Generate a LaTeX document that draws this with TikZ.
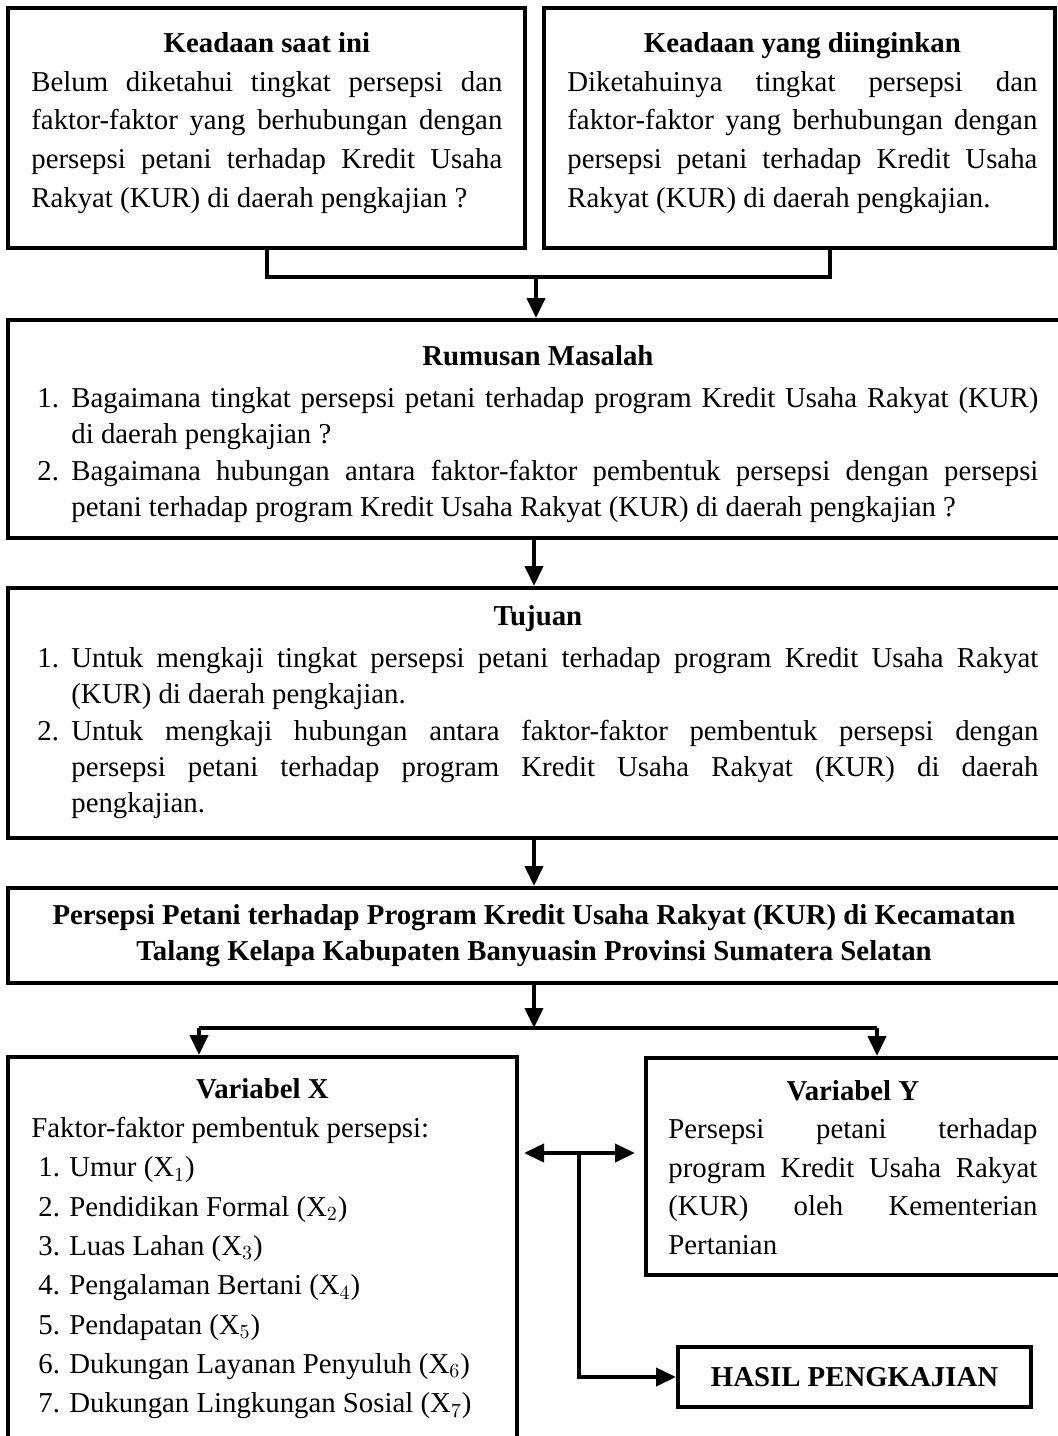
\documentclass[tikz,border=0pt]{standalone}
\usepackage{fontspec}
\setmainfont{Liberation Serif}
\usetikzlibrary{arrows.meta,positioning,calc}
\hyphenpenalty=10000
\exhyphenpenalty=10000
\tolerance=10000
\newcommand{\fA}{\fontsize{14.4}{19.35}\selectfont}
\newcommand{\fC}{\fontsize{14.4}{18.2}\selectfont}
\newcommand{\fX}{\fontsize{14.4}{19.65}\selectfont}
\newcommand{\fY}{\fontsize{14.4}{19.25}\selectfont}
\newcommand{\fE}{\fontsize{14.4}{18}\selectfont\bfseries}
\newcommand{\numitem}[2]{\par\hangindent=17pt\hangafter=1\noindent\makebox[17pt][l]{#1}#2\par}
\newcommand{\xitem}[2]{\par\noindent\hspace*{3.5pt}\makebox[15.5pt][l]{#1}#2\par}
\tikzset{
  frame/.style={draw, line width=2pt, inner sep=0pt},
  txt/.style={inner sep=0pt, anchor=north west, align=justify},
  pre/.style={-{Triangle[length=10pt,width=9pt]}, line width=2pt},
  wire/.style={line width=2pt},
  both/.style={{Triangle[length=10pt,width=9pt]}-{Triangle[length=10pt,width=9pt]}, line width=2pt},
}

\begin{document}
\begin{tikzpicture}[x=0.5pt,y=-0.5pt]
\useasboundingbox (0,0) rectangle (1057,1436);
% boxes
\node[frame, minimum width=258.5pt, minimum height=120pt] (now) at (266.5,128) {};
\node[frame, minimum width=255.5pt, minimum height=120pt] (goal) at (799.5,128) {};
\node[frame, minimum width=526pt, minimum height=109pt] (rumusan) at (534,429) {};
\node[frame, minimum width=526pt, minimum height=125pt] (tujuan) at (534,713) {};
\node[frame, minimum width=526pt, minimum height=47.5pt] (judul) at (534,935.5) {};
\node[frame, minimum width=254.5pt, minimum height=206.5pt] (varx) at (262.5,1263.5) {};
\node[frame, minimum width=207pt, minimum height=108.5pt] (vary) at (853,1166.5) {};
\node[frame, minimum width=176.5pt, minimum height=30pt, font=\fE] (hasil) at (854.5,1377) {HASIL PENGKAJIAN};
% texts
\node[txt, text width=235.5pt, font=\fA] (nowtxt) at (31,32) {{\centering\bfseries Keadaan saat ini\par}
Belum diketahui tingkat persepsi dan\linebreak faktor-faktor yang berhubungan dengan\linebreak persepsi petani terhadap Kredit Usaha\linebreak Rakyat (KUR) di daerah pengkajian ?};
\node[txt, text width=235pt, font=\fA] (goaltxt) at (567,32) {{\centering\bfseries Keadaan yang diinginkan\par}
Diketahuinya tingkat persepsi dan\linebreak faktor-faktor yang berhubungan dengan\linebreak persepsi petani terhadap Kredit Usaha\linebreak Rakyat (KUR) di daerah pengkajian.};
\node[txt, text width=500.5pt, font=\fC] (rumusantxt) at (37,345) {{\centering\bfseries Rumusan Masalah\par}\vspace{2.8pt}
\numitem{1.}{Bagaimana tingkat persepsi petani terhadap program Kredit Usaha Rakyat (KUR)\linebreak di daerah pengkajian ?}
\numitem{2.}{Bagaimana hubungan antara faktor-faktor pembentuk persepsi dengan persepsi\linebreak petani terhadap program Kredit Usaha Rakyat (KUR) di daerah pengkajian ?}};
\node[txt, text width=500.5pt, font=\fC] (tujuantxt) at (37,605) {{\centering\bfseries Tujuan\par}\vspace{2.8pt}
\numitem{1.}{Untuk mengkaji tingkat persepsi petani terhadap program Kredit Usaha Rakyat\linebreak (KUR) di daerah pengkajian.}
\numitem{2.}{Untuk mengkaji hubungan antara faktor-faktor pembentuk persepsi dengan\linebreak persepsi petani terhadap program Kredit Usaha Rakyat (KUR) di daerah\linebreak pengkajian.}};
\node[inner sep=0pt, align=center, font=\fE] (judultxt) at (judul) {Persepsi Petani terhadap Program Kredit Usaha Rakyat (KUR) di Kecamatan\\Talang Kelapa Kabupaten Banyuasin Provinsi Sumatera Selatan};
\node[txt, text width=231pt, align=flush left, font=\fX] (varxtxt) at (31,1078) {{\centering\bfseries Variabel X\par}
Faktor-faktor pembentuk persepsi:
\xitem{1.}{Umur (X$_1$)}
\xitem{2.}{Pendidikan Formal (X$_2$)}
\xitem{3.}{Luas Lahan (X$_3$)}
\xitem{4.}{Pengalaman Bertani (X$_4$)}
\xitem{5.}{Pendapatan (X$_5$)}
\xitem{6.}{Dukungan Layanan Penyuluh (X$_6$)}
\xitem{7.}{Dukungan Lingkungan Sosial (X$_7$)}};
\node[txt, text width=184.5pt, font=\fY] (varytxt) at (668,1080) {{\centering\bfseries Variabel Y\par}
Persepsi petani terhadap\linebreak program Kredit Usaha Rakyat\linebreak (KUR) oleh Kementerian\linebreak Pertanian};
% connectors
\coordinate (join) at (536,277);
\draw[wire] (now.south) |- (join) -| ([xshift=15pt]goal.south);
\draw[pre] (join) -- (join |- rumusan.north);
\draw[pre] (rumusan) -- (tujuan);
\draw[pre] (tujuan) -- (judul);
\coordinate (split) at (534,1028);
\coordinate (splitL) at (199,1028);
\coordinate (splitR) at (877,1028);
\draw[pre] (judul) -- (split);
\draw[wire] (splitL) -- (splitR);
\draw[pre] (splitL) -- (splitL |- varx.north);
\draw[pre] (splitR) -- (splitR |- vary.north);
\coordinate (linkL) at (524,1153);
\coordinate (linkR) at (635,1153);
\coordinate (link) at (579,1153);
\draw[both] (linkL) -- (linkR);
\draw[pre] (link) |- (hasil.west);
\end{tikzpicture}
\end{document}
